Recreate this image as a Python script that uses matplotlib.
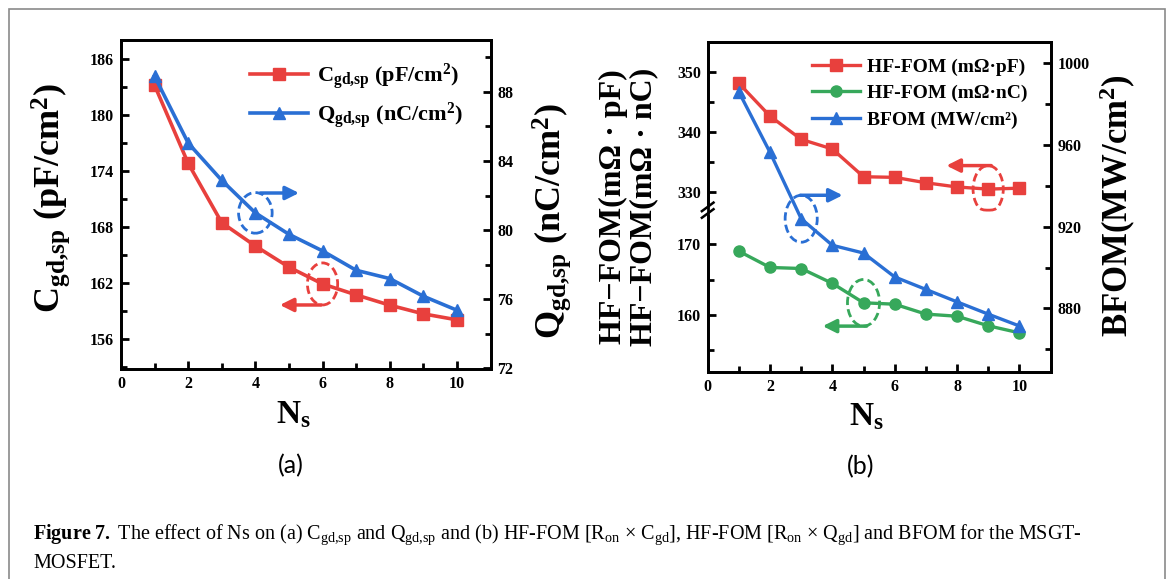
import matplotlib
matplotlib.use("Agg")
import matplotlib.pyplot as plt
import numpy as np
from matplotlib.patches import Ellipse, Rectangle
from matplotlib.lines import Line2D
from matplotlib.ticker import MultipleLocator, FixedLocator, FormatStrFormatter

plt.rcParams['font.family'] = ['Liberation Serif', 'DejaVu Serif']
plt.rcParams['font.weight'] = 'bold'
plt.rcParams['axes.labelweight'] = 'bold'
plt.rcParams['mathtext.fontset'] = 'custom'
plt.rcParams['mathtext.rm'] = 'Liberation Serif:regular'
plt.rcParams['mathtext.bf'] = 'Liberation Serif:bold'
plt.rcParams['mathtext.it'] = 'Liberation Serif:italic:regular'
plt.rcParams['axes.linewidth'] = 2.0

RED = '#e8403d'
BLUE = '#2a6fd4'
GREEN = '#37a85b'

# data
ns = [1, 2, 3, 4, 5, 6, 7, 8, 9, 10]
c_gd = [183.15, 174.8, 168.45, 165.96, 163.7, 161.9, 160.73, 159.63, 158.7, 158.06]
q_gd = [88.9, 85.04, 82.88, 81.0, 79.76, 78.8, 77.68, 77.2, 76.18, 75.37]
hf_pf = [348.1, 342.65, 338.8, 337.2, 332.6, 332.5, 331.6, 330.9, 330.55, 330.7]
hf_nc = [169.05, 166.75, 166.6, 164.5, 161.75, 161.55, 160.15, 159.85, 158.5, 157.5]
bfom = [986.0, 956.4, 923.9, 910.9, 907.1, 895.4, 889.3, 883.2, 877.2, 871.4]

W, H = 1168, 579
fig = plt.figure(figsize=(W / 100, H / 100), dpi=100)


def px_axes(l, t, r, b):
    return fig.add_axes([l / W, 1 - b / H, (r - l) / W, (b - t) / H])


def style(ax):
    ax.tick_params(which='both', direction='in', width=2, labelsize=11.5, pad=5)
    ax.tick_params(which='major', length=6)
    ax.tick_params(which='minor', length=4)
    ax.xaxis.set_major_locator(MultipleLocator(2))
    ax.xaxis.set_minor_locator(MultipleLocator(1))
    ax.set_xlim(0, 11)


# broken axis for panel (b): lower part 152-175, upper part 327-355
BRK_LO, BRK_HI, K = 174.85, 327.06, 0.853


def fwd(v):
    return np.interp(v, [0, BRK_LO, BRK_HI, 2000], [0, BRK_LO, BRK_LO + 0.01, BRK_LO + 0.01 + (2000 - BRK_HI) * K])


def inv(u):
    return np.interp(u, [0, BRK_LO, BRK_LO + 0.01, BRK_LO + 0.01 + (2000 - BRK_HI) * K], [0, BRK_LO, BRK_HI, 2000])


arrow_kw = dict(arrowstyle='-|>', lw=2.5, mutation_scale=20, shrinkA=0, shrinkB=0)
ell_kw = dict(fill=False, ls=(0, (3, 1.5)), lw=2)
c_lab = r'$\mathbf{C_{gd{,}sp}}$ (pF/cm$^{\mathbf{2}}$)'
q_lab = r'$\mathbf{Q_{gd{,}sp}}$ (nC/cm$^{\mathbf{2}}$)'

# ---------------- panel (a)
ax1 = px_axes(121, 40, 490.5, 369)
ax1r = ax1.twinx()
l1, = ax1.plot(ns, c_gd, color=RED, marker='s', lw=2.6, markersize=8)
l2, = ax1r.plot(ns, q_gd, color=BLUE, marker='^', lw=2.6, markersize=9)
ax1.set_ylim(152.8, 188)
ax1.yaxis.set_major_locator(MultipleLocator(6))
ax1.yaxis.set_minor_locator(MultipleLocator(3))
ax1r.set_ylim(71.97, 91)
ax1r.yaxis.set_major_locator(MultipleLocator(4))
ax1r.yaxis.set_minor_locator(MultipleLocator(2))
for a in (ax1, ax1r):
    style(a)

ax1.set_ylabel(c_lab, fontsize=26, va='center')
ax1.yaxis.set_label_coords(-0.19, 0.518)
ax1r.set_ylabel(q_lab, fontsize=26, va='center')
ax1r.yaxis.set_label_coords(1.165, 0.45)
ax1.set_xlabel(r'$\mathbf{N_s}$', fontsize=24, va='center')
ax1.xaxis.set_label_coords(0.466, -0.14)

ax1r.legend([l1, l2], [c_lab, q_lab],
            loc='upper right', bbox_to_anchor=(0.925, 0.935), frameon=False, fontsize=16,
            handlelength=2.6, handletextpad=0.4, labelspacing=0.35, borderpad=0, borderaxespad=0)

ax1r.add_patch(Ellipse((ns[3], q_gd[3]), 1.0, 2.35, ec=BLUE, **ell_kw))
ax1r.annotate('', xy=(ns[3] + 1.3, q_gd[3] + 1.15), xytext=(ns[3] + 0.15, q_gd[3] + 1.15),
              arrowprops=dict(color=BLUE, **arrow_kw))
ax1.add_patch(Ellipse((ns[5], c_gd[5]), 0.9, 4.5, ec=RED, **ell_kw))
ax1.annotate('', xy=(ns[5] - 1.27, c_gd[5] - 2.25), xytext=(ns[5] - 0.05, c_gd[5] - 2.25),
             arrowprops=dict(color=RED, **arrow_kw))

# ---------------- panel (b)
ax2 = px_axes(707.7, 41.7, 1050.5, 371.7)
ax2.set_yscale('function', functions=(fwd, inv))
ax2r = ax2.twinx()
m1, = ax2.plot(ns, hf_pf, color=RED, marker='s', lw=2.4, markersize=8)
m2, = ax2.plot(ns, hf_nc, color=GREEN, marker='o', lw=2.4, markersize=8)
m3, = ax2r.plot(ns, bfom, color=BLUE, marker='^', lw=2.4, markersize=9)
ax2.set_ylim(152, 355)
ax2.yaxis.set_major_locator(FixedLocator([160, 170, 330, 340, 350]))
ax2.yaxis.set_minor_locator(FixedLocator([155, 165, 335, 345]))
ax2.yaxis.set_major_formatter(FormatStrFormatter('%d'))
ax2.yaxis.set_minor_formatter(plt.NullFormatter())
ax2r.set_ylim(849, 1010.6)
ax2r.yaxis.set_major_locator(MultipleLocator(40))
ax2r.yaxis.set_minor_locator(FixedLocator([860, 900, 940, 980]))
for a in (ax2, ax2r):
    style(a)

ax2.set_ylabel('HF\u2212FOM(m\u03a9 \u00b7 pF)\nHF\u2212FOM(m\u03a9 \u00b7 nC)', fontsize=23, va='center', linespacing=1.05)
ax2.yaxis.set_label_coords(-0.232, 0.499)
ax2r.set_ylabel(r'BFOM(MW/cm$^{\mathbf{2}}$)', fontsize=25, va='center')
ax2r.yaxis.set_label_coords(1.197, 0.502)
ax2.set_xlabel(r'$\mathbf{N_s}$', fontsize=24, va='center')
ax2.xaxis.set_label_coords(0.462, -0.137)

ax2r.legend([m1, m2, m3], ['HF-FOM (m\u03a9\u00b7pF)', 'HF-FOM (m\u03a9\u00b7nC)', 'BFOM (MW/cm\u00b2)'],
            loc='upper right', bbox_to_anchor=(0.934, 0.95), frameon=False, fontsize=14,
            handlelength=2.5, handletextpad=0.36, labelspacing=0.45, borderpad=0, borderaxespad=0)

# break marks on the left spine
yb = (fwd(251) - fwd(152)) / (fwd(355) - fwd(152))
ax2.add_patch(Rectangle((-0.02, yb - 0.012), 0.04, 0.024, transform=ax2.transAxes,
                        color='white', clip_on=False, zorder=5))
for off in (-0.01, 0.01):
    ax2.add_line(Line2D([-0.017, 0.017], [yb + off - 0.013, yb + off + 0.013], transform=ax2.transAxes,
                        color='black', lw=1.8, clip_on=False, zorder=6))

ax2r.add_patch(Ellipse((ns[2], bfom[2]), 1.03, 23, ec=BLUE, **ell_kw))
ax2r.annotate('', xy=(ns[2] + 1.33, bfom[2] + 11.5), xytext=(ns[2] - 0.03, bfom[2] + 11.5),
              arrowprops=dict(color=BLUE, **arrow_kw))
ax2.add_patch(Ellipse((ns[8], hf_pf[8]), 0.97, 7.8, ec=RED, **ell_kw))
ax2.annotate('', xy=(ns[8] - 1.34, hf_pf[8] + 3.9), xytext=(ns[8] + 0.1, hf_pf[8] + 3.9),
             arrowprops=dict(color=RED, **arrow_kw))
ax2.add_patch(Ellipse((ns[4], hf_nc[4]), 1.03, 6.6, ec=GREEN, **ell_kw))
ax2.annotate('', xy=(ns[4] - 1.31, hf_nc[4] - 3.3), xytext=(ns[4] + 0.1, hf_nc[4] - 3.3),
             arrowprops=dict(color=GREEN, **arrow_kw))

# panel tags and caption
fig.text(291 / W, 1 - 466 / H, '(a)', fontsize=18, family='Lato', weight='normal', ha='center', va='center')
fig.text(861 / W, 1 - 467 / H, '(b)', fontsize=18, family='Lato', weight='normal', ha='center', va='center')
caption = (r'$\mathbf{Figure\ 7.}$ The effect of Ns on (a) C$_{\rm gd{,}sp}$ and Q$_{\rm gd{,}sp}$ and (b) HF-FOM '
           r'[R$_{\rm on}$ $\times$ C$_{\rm gd}$], HF-FOM [R$_{\rm on}$ $\times$ Q$_{\rm gd}$] and BFOM for the MSGT-')
fig.text(33 / W, 1 - 535 / H, caption, fontsize=14.5, weight='normal', va='center')
fig.text(33 / W, 1 - 563 / H, 'MOSFET.', fontsize=14.5, weight='normal', va='center')

fig.add_artist(Rectangle((9 / W, -0.05), (1164.5 - 9) / W, 1 - 9 / H + 0.05, transform=fig.transFigure,
                         fill=False, ec='#8a8a8a', lw=1.2))

fig.savefig('out.png', dpi=100)
